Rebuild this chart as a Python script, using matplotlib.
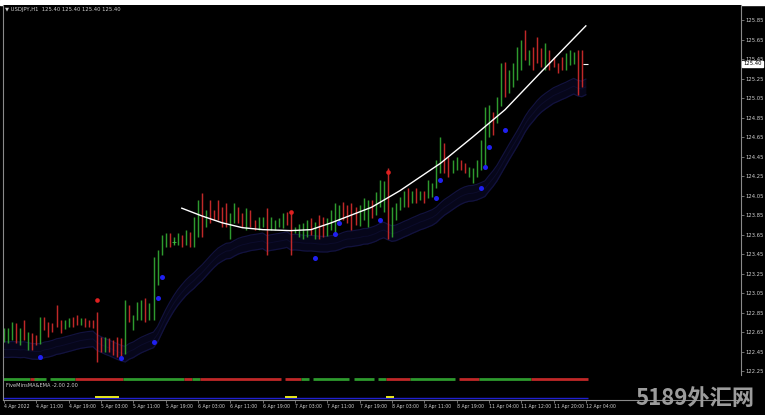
"""
USDJPY H1 - recreacion de la captura de MT4 (4-12 Apr 2022).
"""

import matplotlib

matplotlib.use("Agg")

import matplotlib.pyplot as plt
import numpy as np
import pandas as pd
from matplotlib.patches import Rectangle


W, H = 765, 415

# --- datos ----------------------------------------------------------------
highs = [
    122.69, 122.69, 122.75, 122.74, 122.69, 122.77, 122.65, 122.64, 122.62, 122.80,
    122.80, 122.75, 122.74, 122.93, 122.77, 122.77, 122.79, 122.80, 122.82, 122.79,
    122.79, 122.77, 122.77, 122.86, 122.60, 122.60, 122.59, 122.57, 122.60, 122.59,
    122.98, 122.93, 122.82, 122.96, 122.98, 123.00, 122.95, 123.42, 123.49, 123.64,
    123.67, 123.67, 123.62, 123.67, 123.65, 123.70, 123.68, 123.83, 124.00, 124.08,
    123.90, 124.00, 123.90, 124.00, 123.93, 123.97, 123.87, 123.97, 123.93, 123.87,
    123.92, 123.90, 123.80, 123.83, 123.83, 123.92, 123.83, 123.80, 123.82, 123.87,
    123.88, 123.87, 123.73, 123.76, 123.77, 123.80, 123.82, 123.78, 123.85, 123.83,
    123.82, 123.90, 123.97, 123.95, 123.98, 123.95, 123.97, 123.93, 123.95, 124.02,
    124.00, 124.00, 124.09, 124.21, 124.20, 124.33, 123.93, 123.97, 124.03, 124.10,
    124.13, 124.10, 124.13, 124.10, 124.10, 124.21, 124.18, 124.41, 124.65, 124.59,
    124.44, 124.41, 124.44, 124.41, 124.38, 124.34, 124.33, 124.41, 124.62, 124.96,
    124.98, 124.91, 125.06, 125.41, 125.42, 125.34, 125.41, 125.57, 125.64, 125.75,
    125.54, 125.57, 125.68, 125.56, 125.61, 125.54, 125.47, 125.41, 125.47, 125.51,
    125.54, 125.52, 125.54, 125.54, 125.40,
]
lows = [
    122.55, 122.54, 122.57, 122.54, 122.52, 122.57, 122.47, 122.47, 122.52, 122.53,
    122.67, 122.60, 122.65, 122.70, 122.64, 122.68, 122.70, 122.70, 122.72, 122.72,
    122.70, 122.70, 122.69, 122.34, 122.45, 122.44, 122.45, 122.41, 122.39, 122.39,
    122.42, 122.75, 122.67, 122.77, 122.77, 122.75, 122.77, 122.77, 123.13, 123.44,
    123.52, 123.52, 123.54, 123.54, 123.52, 123.54, 123.52, 123.52, 123.62, 123.62,
    123.73, 123.77, 123.80, 123.80, 123.73, 123.73, 123.60, 123.77, 123.77, 123.73,
    123.70, 123.73, 123.70, 123.70, 123.73, 123.44, 123.70, 123.70, 123.73, 123.72,
    123.75, 123.44, 123.67, 123.62, 123.60, 123.62, 123.65, 123.60, 123.60, 123.62,
    123.63, 123.70, 123.67, 123.75, 123.80, 123.77, 123.70, 123.75, 123.74, 123.80,
    123.73, 123.82, 123.85, 123.93, 123.88, 123.60, 123.62, 123.80, 123.90, 123.93,
    123.93, 123.97, 123.97, 124.00, 123.97, 124.02, 124.03, 124.13, 124.28, 124.28,
    124.24, 124.28, 124.31, 124.31, 124.28, 124.24, 124.18, 124.24, 124.31, 124.34,
    124.65, 124.67, 124.79, 124.97, 125.06, 125.10, 125.16, 125.23, 125.34, 125.44,
    125.39, 125.34, 125.41, 125.37, 125.34, 125.34, 125.37, 125.31, 125.34, 125.34,
    125.39, 125.40, 125.08, 125.16, 125.40,
]
closes = [
    122.64, 122.66, 122.70, 122.60, 122.63, 122.59, 122.62, 122.54, 122.53, 122.78,
    122.76, 122.74, 122.72, 122.71, 122.68, 122.74, 122.76, 122.74, 122.73, 122.76,
    122.74, 122.72, 122.71, 122.55, 122.50, 122.55, 122.49, 122.46, 122.44, 122.42,
    122.90, 122.80, 122.81, 122.92, 122.95, 122.82, 122.90, 123.30, 123.45, 123.60,
    123.63, 123.56, 123.60, 123.64, 123.57, 123.65, 123.58, 123.78, 123.92, 123.80,
    123.85, 123.82, 123.81, 123.80, 123.76, 123.74, 123.80, 123.90, 123.82, 123.78,
    123.85, 123.79, 123.74, 123.78, 123.80, 123.74, 123.78, 123.79, 123.80, 123.84,
    123.80, 123.70, 123.72, 123.74, 123.75, 123.77, 123.70, 123.74, 123.66, 123.64,
    123.78, 123.85, 123.92, 123.93, 123.86, 123.82, 123.76, 123.75, 123.88, 123.95,
    123.97, 123.90, 124.02, 124.15, 124.18, 123.70, 123.85, 123.92, 124.00, 124.06,
    124.00, 124.06, 124.02, 124.07, 124.02, 124.16, 124.17, 124.35, 124.55, 124.40,
    124.32, 124.38, 124.41, 124.35, 124.30, 124.32, 124.33, 124.38, 124.55, 124.85,
    124.90, 124.80, 124.98, 125.30, 125.18, 125.28, 125.36, 125.50, 125.58, 125.48,
    125.50, 125.42, 125.41, 125.40, 125.52, 125.44, 125.40, 125.36, 125.35, 125.45,
    125.50, 125.51, 125.45, 125.40, 125.40,
]
first_open = 122.58
last_price = 125.40

# semaforos (indice de barra, precio)
blue_idx = [9, 29, 37, 38, 39, 77, 82, 83, 93, 107, 108, 118, 119, 120, 124]
blue_px = [122.39, 122.38, 122.55, 123.00, 123.21, 123.41, 123.66, 123.77, 123.80,
           124.02, 124.21, 124.13, 124.34, 124.55, 124.72]
red_idx = [23, 71, 95]
red_px = [122.98, 123.88, 124.29]

# arco dibujado a mano (blanco)
arc_idx = [44, 49, 54, 59, 64, 71, 76, 81, 86, 91, 98, 108, 116, 124, 133, 144]
arc_px = [123.92, 123.84, 123.77, 123.72, 123.70, 123.69, 123.70, 123.77, 123.85,
          123.93, 124.10, 124.38, 124.65, 124.93, 125.32, 125.79]

# subventana: tramos de estado (barra inicio, barra fin, estado)
state_segments = [
    (0, 6, "up"), (7, 8, "dn"), (8, 10, "up"), (12, 17, "up"), (18, 29, "dn"),
    (30, 44, "up"), (45, 46, "dn"), (47, 48, "up"), (49, 68, "dn"), (70, 73, "dn"),
    (74, 75, "up"), (77, 85, "up"), (87, 91, "up"), (93, 94, "up"), (95, 100, "dn"),
    (101, 111, "up"), (113, 117, "dn"), (118, 130, "up"), (131, 144, "dn"),
]
signal_segments = [(23, 28), (70, 72), (95, 96)]

time_labels = [
    "4 Apr 2022", "4 Apr 11:00", "4 Apr 19:00", "5 Apr 03:00", "5 Apr 11:00",
    "5 Apr 19:00", "6 Apr 03:00", "6 Apr 11:00", "6 Apr 19:00", "7 Apr 03:00",
    "7 Apr 11:00", "7 Apr 19:00", "8 Apr 03:00", "8 Apr 11:00", "8 Apr 19:00",
    "11 Apr 04:00", "11 Apr 12:00", "11 Apr 20:00", "12 Apr 04:00",
]
price_ticks = [125.85, 125.65, 125.45, 125.25, 125.05, 124.85, 124.65, 124.45,
               124.25, 124.05, 123.85, 123.65, 123.45, 123.25, 123.05, 122.85,
               122.65, 122.45, 122.25]

UP = "#2e9a2e"
DOWN = "#c02828"
BAND = "#12123e"
FG = "#cfcfcf"


def px_box(x0, y0, x1, y1):
    """Caja en pixeles de la captura -> coordenadas de figura."""
    return [x0 / W, 1 - y1 / H, (x1 - x0) / W, (y1 - y0) / H]


def draw_main(fig):
    ax = fig.add_axes(px_box(3, 5, 741, 375), facecolor="black")
    idx = np.arange(len(closes))
    opens = np.r_[first_open, closes[:-1]]
    colors = [UP if c >= o else DOWN for o, c in zip(opens, closes)]

    # canal de medias (EMA de minimos), muy oscuro
    ema = pd.Series(lows).ewm(span=16, adjust=False).mean().to_numpy()
    ax.fill_between(idx, ema - 0.16, ema + 0.0, color="#06061a", lw=0, zorder=1)
    ax.plot(idx, ema, color=BAND, lw=0.9, zorder=1)
    ax.plot(idx, ema - 0.08, color="#0c0c2c", lw=0.7, zorder=1)
    ax.plot(idx, ema - 0.16, color=BAND, lw=0.9, zorder=1)

    # barras de 1-2 px
    ax.vlines(idx[:-1], lows[:-1], highs[:-1], colors=colors[:-1], lw=1.05, zorder=2)
    ax.hlines(last_price, idx[-1] - 0.6, idx[-1] + 0.6, color="white", lw=0.8, zorder=2)

    ax.plot(arc_idx, arc_px, color="white", lw=1.0, zorder=3)

    ax.scatter(blue_idx, blue_px, s=13, color="#2020f0", zorder=4, lw=0)
    ax.scatter(red_idx, red_px, s=11, color="#e02020", zorder=4, lw=0)
    ax.plot([42], [123.57], marker="+", ms=3, mew=0.6, color="#3fbf3f", zorder=4)

    ax.set_xlim(-0.25, 182.4)
    ax.set_ylim(122.209, 126.004)
    ax.set_xticks([])
    ax.yaxis.tick_right()
    ax.set_yticks(price_ticks)
    ax.set_yticklabels([f"{p:.2f}" for p in price_ticks])
    ax.tick_params(axis="y", colors="#9a9a9a", labelcolor=FG, labelsize=3.8,
                   length=2, width=0.5, pad=1.5)
    for side in ["top", "bottom"]:
        ax.spines[side].set_visible(False)
    for side in ["left", "right"]:
        ax.spines[side].set_color("#8a8a8a")
        ax.spines[side].set_linewidth(0.8)

    ax.text(1.003, last_price, "125.40", transform=ax.get_yaxis_transform(),
            fontsize=3.8, color="black", va="center", ha="left",
            bbox=dict(boxstyle="square,pad=0.15", fc="white", ec="white"))
    return ax


def draw_sub(fig):
    ax = fig.add_axes(px_box(3, 375, 741, 400), facecolor="black")
    for start, end, state in state_segments:
        ax.hlines(0.86, start - 0.5, end + 0.5, color=UP if state == "up" else DOWN,
                  lw=2.0)
    ax.hlines(0.08, -0.25, 144.5, color="#1f1fd0", lw=1.0)
    for start, end in signal_segments:
        ax.hlines(0.12, start - 0.5, end + 0.5, color="#e8e820", lw=1.4)
    ax.text(0.5, 0.6, "FiveMinsMA&EMA -2.00 2.00", fontsize=3.6, color=FG,
            va="center", ha="left")

    ax.set_xlim(-0.25, 182.4)
    ax.set_ylim(0, 1)
    ax.set_yticks([])
    ax.set_xticks(np.arange(len(time_labels)) * 8)
    ax.set_xticklabels(time_labels, ha="left")
    ax.tick_params(axis="x", colors="#9a9a9a", labelcolor=FG, labelsize=3.3,
                   length=2, width=0.5, pad=1)
    for side in ["top", "right"]:
        ax.spines[side].set_visible(False)
    ax.spines["left"].set_color("#8a8a8a")
    ax.spines["bottom"].set_color("#8a8a8a")
    ax.spines["bottom"].set_linewidth(0.8)
    return ax


def main():
    fig = plt.figure(figsize=(W / 100, H / 100), dpi=100, facecolor="black")
    fig.add_artist(Rectangle((0, 1 - 5 / H), 1, 5 / H, transform=fig.transFigure,
                             color="white", zorder=0))
    draw_main(fig)
    draw_sub(fig)

    fig.text(5 / W, 1 - 10 / H, "\u25bc USDJPY,H1  125.40 125.40 125.40 125.40",
             fontsize=3.8, color=FG, va="center", ha="left")
    fig.text(695 / W, 1 - 398 / H, "5189外汇网", fontsize=16, fontweight="bold",
             color="#9c9c9c", va="center", ha="center",
             family=["Noto Sans CJK SC", "DejaVu Sans"])

    fig.savefig("out.png", dpi=100, facecolor="black")
    plt.close(fig)


if __name__ == "__main__":
    main()
